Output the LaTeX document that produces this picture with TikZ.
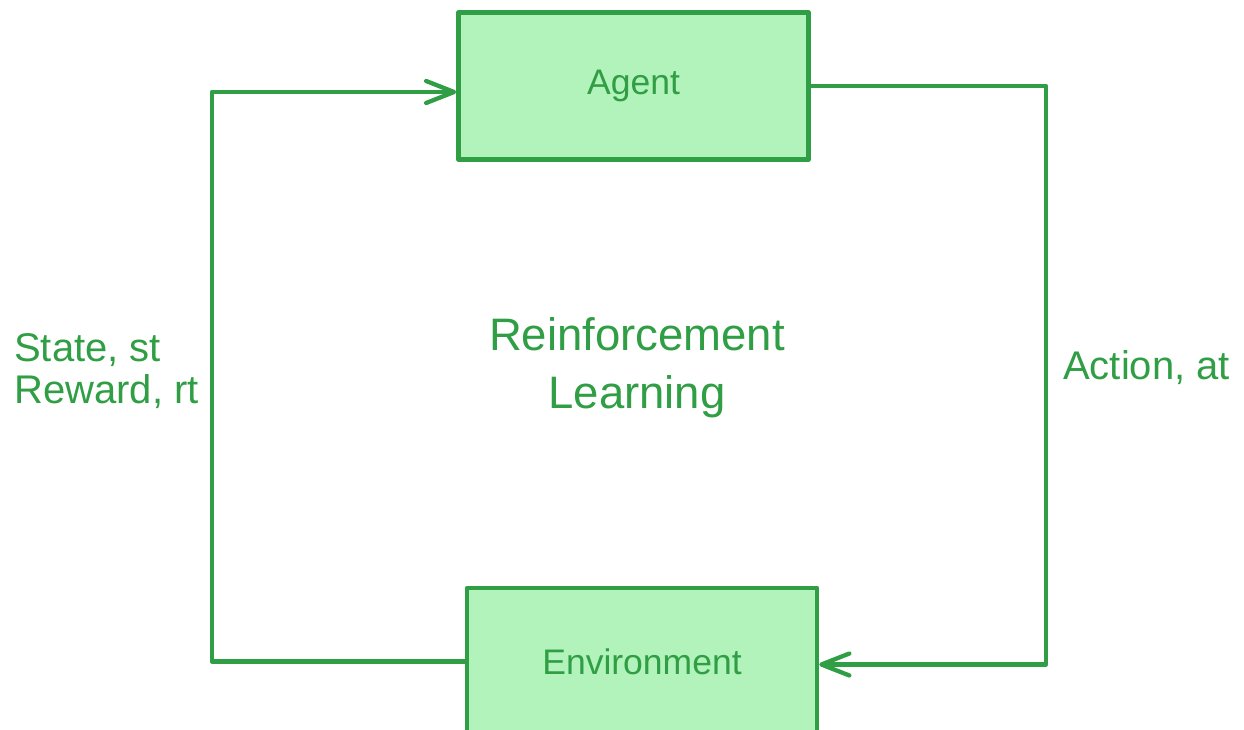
\documentclass[tikz,border=0pt]{standalone}
\usepackage{fontspec}
\setmainfont{Liberation Sans}
\usetikzlibrary{arrows.meta}
\definecolor{stroke}{HTML}{2F9E44}
\definecolor{boxfill}{HTML}{B2F2BB}
\tikzset{
  block/.style={draw=stroke, fill=boxfill, line width=4.5pt, line join=round,
    minimum width=350pt, minimum height=147pt, inner sep=0pt,
    text=stroke, font=\fontsize{35.5}{40}\selectfont},
  flow/.style={draw=stroke, line width=4.3pt, line join=round, line cap=round,
    -{Straight Barb[length=28pt, width=22pt, line width=4.3pt, line cap=round, line join=round]}},
  label/.style={text=stroke, inner sep=0pt, anchor=base west, align=left,
    font=\fontsize{40}{42}\selectfont},
  title/.style={text=stroke, inner sep=0pt, align=center,
    font=\fontsize{45.5}{58}\selectfont}
}
\begin{document}
\begin{tikzpicture}[x=1pt, y=-1pt]
  \useasboundingbox (0,0) rectangle (1244,730);
  \clip (0,0) rectangle (1244,730);

  % the two boxes
  \node[block] (agent) at (633.5,86) {\raisebox{-3pt}{Agent}};
  \node[block] (env) at (642,661.5) {Environment};

  % bends of the loop
  \coordinate (lb) at (212,663);
  \coordinate (rt) at (1046,87);

  % environment -> agent (observation and reward)
  \draw[flow] (env.west) -- (env.west -| lb) |- ([yshift=-6pt]agent.west);
  % agent -> environment (action)
  \draw[flow] (agent.east) -- (agent.east -| rt) |- ([yshift=-3pt]env.east);

  % texts
  \node[label] (obs) at (14,403) {State, st\\Reward, rt};
  \node[label] (act) at (1063,379) {Action, at};
  \node[title] (rl) at (637,368) {Reinforcement\\Learning};
\end{tikzpicture}
\end{document}
